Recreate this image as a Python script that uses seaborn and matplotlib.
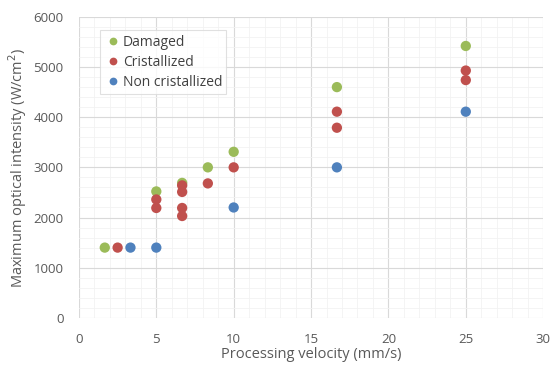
import pandas as pd
import seaborn as sns
import matplotlib.pyplot as plt
from matplotlib.ticker import MultipleLocator, AutoMinorLocator

# datos
damaged_v = [1.67, 5, 6.67, 8.33, 10, 16.67, 25]
damaged_i = [1400, 2520, 2690, 3000, 3310, 4600, 5420]

crist_v = [2.5, 5, 5, 6.67, 6.67, 6.67, 6.67, 8.33, 10, 16.67, 16.67, 25, 25]
crist_i = [1400, 2360, 2190, 2640, 2510, 2190, 2030, 2680, 3000, 4110, 3790, 4930, 4740]

noncrist_v = [3.33, 5, 10, 16.67, 25]
noncrist_i = [1400, 1400, 2200, 3000, 4110]

series = ["Damaged", "Cristallized", "Non cristallized"]
colores = ["#9BBB59", "#C0504D", "#4F81BD"]

df = pd.concat([
    pd.DataFrame({"v": damaged_v, "I": damaged_i, "tipo": series[0]}),
    pd.DataFrame({"v": crist_v, "I": crist_i, "tipo": series[1]}),
    pd.DataFrame({"v": noncrist_v, "I": noncrist_i, "tipo": series[2]}),
])

sns.set_style("white")
plt.rcParams["font.family"] = ["Open Sans", "DejaVu Sans"]

fig = plt.figure(figsize=(5.52, 3.67), dpi=100)
ax = fig.add_axes([0.143, 0.134, 0.841, 0.82])

sns.scatterplot(
    data=df, x="v", y="I", hue="tipo", hue_order=series,
    palette=colores, s=55, edgecolor="none", ax=ax, zorder=3
)

ax.set_xlim(0, 30)
ax.set_ylim(0, 6000)
ax.xaxis.set_major_locator(MultipleLocator(5))
ax.yaxis.set_major_locator(MultipleLocator(1000))
ax.xaxis.set_minor_locator(AutoMinorLocator(5))
ax.yaxis.set_minor_locator(AutoMinorLocator(5))
ax.grid(which="major", color="#D9D9D9", lw=0.8)
ax.grid(which="minor", color="#F2F2F2", lw=0.6)
ax.set_axisbelow(True)
for s in ax.spines.values():
    s.set_visible(False)
ax.tick_params(which="both", length=0, colors="#595959", labelsize=9.5)
ax.tick_params(axis="x", pad=11)
ax.tick_params(axis="y", pad=11)

ax.set_xlabel("Processing velocity (mm/s)", fontsize=10.5, color="#595959", labelpad=1)
ax.set_ylabel("Maximum optical intensity (W/cm$^2$)", fontsize=10.5, color="#595959", labelpad=3)

leg = ax.legend(
    loc="upper left", bbox_to_anchor=(0.045, 0.955), frameon=True,
    fontsize=10, handletextpad=0.05, borderpad=0.3, labelspacing=0.38,
    handlelength=1.3, fancybox=False, markerscale=0.75, borderaxespad=0
)
leg.get_frame().set_edgecolor("#D9D9D9")
leg.get_frame().set_linewidth(0.8)
for t in leg.get_texts():
    t.set_color("#404040")

plt.savefig("out.png", dpi=100)
plt.close()
